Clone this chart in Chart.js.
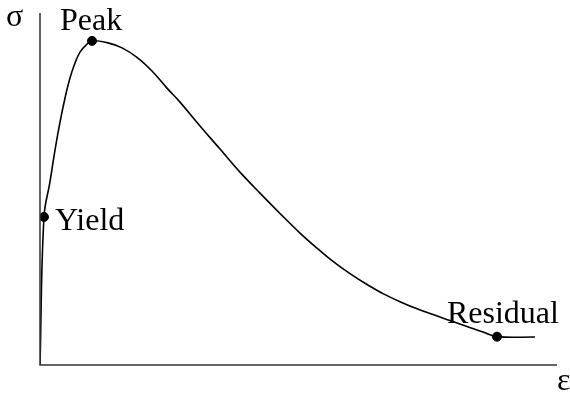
<!DOCTYPE html>
<html>
<head>
<meta charset="utf-8">
<script src="https://cdn.jsdelivr.net/npm/chart.js@4/dist/chart.umd.min.js"></script>
<style>
    html, body { margin: 0; padding: 0; background: #fff; }
    #wrap { width: 570px; height: 396px; }
</style>
</head>
<body>
<div id="wrap"><canvas id="curveChart"></canvas></div>
<script>
// strain (ε) and stress (σ), both on a 0-100 relative scale
const strain = [0, 0.77, 1.93, 2.9, 3.87, 4.84, 5.8, 6.77, 7.74, 8.9, 10.06, 12.96, 15.86, 18.76, 21.66, 24.56, 27.08, 30.95, 34.82, 38.68, 42.55, 46.42, 50.29, 53.58, 56.67, 59.96, 63.25, 66.34, 69.63, 72.92, 76.02, 79.3, 82.59, 85.69, 88.39, 95.74];
const stress = [0, 42.3, 52.3, 61.4, 69.4, 76.3, 82.0, 86.3, 89.4, 91.4, 92.6, 92.1, 90.6, 87.9, 84.0, 79.1, 75.1, 68.3, 61.7, 55.1, 49.1, 43.3, 37.7, 33.4, 29.6, 26.1, 23.0, 20.4, 18.1, 16.1, 14.4, 12.7, 11.0, 9.4, 8.1, 8.0];

const markerNames = ["Yield", "Peak", "Residual"];
const markerStrain = [0.77, 10.06, 88.39];
const markerStress = [42.3, 92.6, 8.1];

const curve = strain.map((x, i) => ({ x: x, y: stress[i] }));
const markers = markerStrain.map((x, i) => ({ x: x, y: markerStress[i], name: markerNames[i] }));

const serif = "Liberation Serif";

// axis lines, axis symbols and marker labels
const annotate = {
    id: "annotate",
    afterDatasetsDraw(chart) {
        const { ctx, chartArea: a, scales } = chart;
        ctx.save();
        ctx.strokeStyle = "#333";
        ctx.lineWidth = 1.5;
        ctx.beginPath();
        ctx.moveTo(a.left, a.top - 2);
        ctx.lineTo(a.left, a.bottom);
        ctx.lineTo(a.right, a.bottom);
        ctx.stroke();

        ctx.fillStyle = "#000";
        ctx.font = "32px '" + serif + "'";
        ctx.textBaseline = "alphabetic";
        ctx.textAlign = "left";
        ctx.fillText("σ", 6, 26);
        ctx.fillText("ε", 557, 390);

        const offsets = { Yield: [11, 13], Peak: [-32, -11], Residual: [-50, -14] };
        markers.forEach(m => {
            const px = scales.x.getPixelForValue(m.x);
            const py = scales.y.getPixelForValue(m.y);
            const o = offsets[m.name];
            ctx.fillText(m.name, px + o[0], py + o[1]);
        });
        ctx.restore();
    }
};

new Chart(document.getElementById("curveChart"), {
    type: "scatter",
    data: {
        datasets: [
            {
                data: curve,
                showLine: true,
                borderColor: "#000",
                borderWidth: 1.6,
                pointRadius: 0,
                tension: 0.4,
                order: 2
            },
            {
                data: markers,
                pointRadius: 4.5,
                pointBackgroundColor: "#000",
                pointBorderColor: "#000",
                order: 1
            }
        ]
    },
    options: {
        responsive: true,
        maintainAspectRatio: false,
        animation: false,
        layout: { padding: { left: 40, top: 15, right: 13, bottom: 31 } },
        plugins: { legend: { display: false }, tooltip: { enabled: false } },
        scales: {
            x: { type: "linear", min: 0, max: 100, display: false },
            y: { type: "linear", min: 0, max: 100, display: false }
        }
    },
    plugins: [annotate]
});
</script>
</body>
</html>
